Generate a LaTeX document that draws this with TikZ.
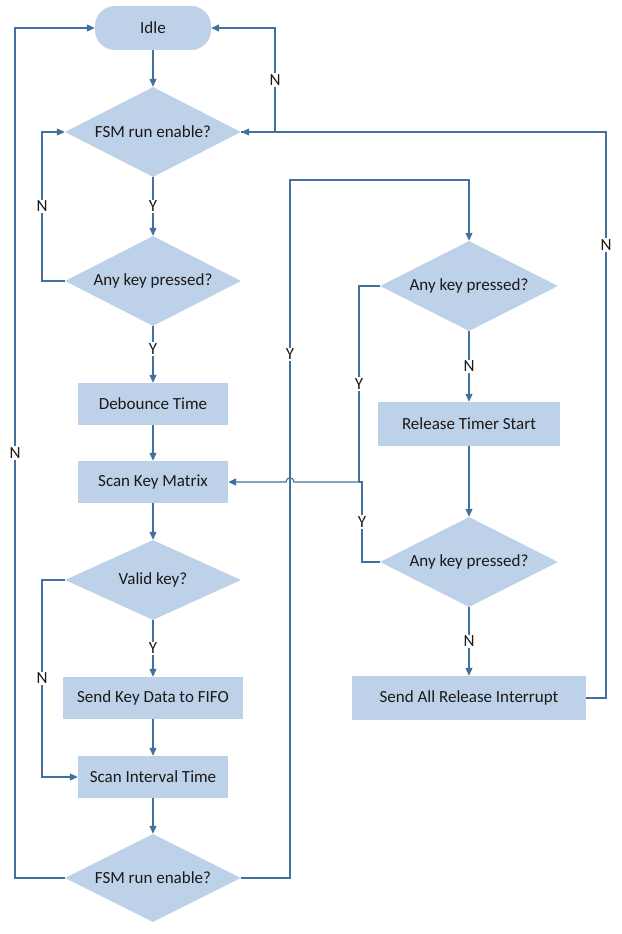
\documentclass[tikz,border=0pt]{standalone}
\usepackage{fontspec}
\setmainfont{Carlito}
\usetikzlibrary{shapes.geometric,arrows.meta}
\definecolor{fillb}{RGB}{189,210,232}
\definecolor{lineb}{RGB}{65,113,156}
\begin{document}
\begin{tikzpicture}[x=1pt,y=1pt,
  every node/.style={font=\fontsize{17}{19}\selectfont, text=black!90},
  box/.style={rectangle, fill=fillb, inner sep=0pt},
  dia/.style={diamond, fill=fillb, inner sep=0pt, aspect=1.95},
  ln/.style={draw=lineb, line width=1.1pt},
  ar/.style={ln, -{Triangle[length=8pt,width=7pt]}},
  lab/.style={fill=white, inner sep=1.5pt}]
\useasboundingbox (0,0) rectangle (621,-934);
\node[box, rounded corners=20pt, minimum width=116pt, minimum height=44pt] (idle) at (153,-28) {Idle};
\node[dia, minimum width=176pt, minimum height=90pt] (d1) at (153,-132) {FSM run enable?};
\node[dia, minimum width=176pt, minimum height=90pt] (d2) at (153,-281) {Any key pressed?};
\node[box, minimum width=150pt, minimum height=42pt] (deb) at (153,-404) {Debounce Time};
\node[box, minimum width=150pt, minimum height=42pt] (scan) at (153,-482) {Scan Key Matrix};
\node[dia, minimum width=176pt, minimum height=80pt] (valid) at (153,-580) {Valid key?};
\node[box, minimum width=180pt, minimum height=42pt] (send) at (153,-698) {Send Key Data to FIFO};
\node[box, minimum width=150pt, minimum height=42pt] (inter) at (153,-777) {Scan Interval Time};
\node[dia, minimum width=176pt, minimum height=88pt] (d3) at (153,-878) {FSM run enable?};
\node[dia, minimum width=178pt, minimum height=90pt] (r1) at (469,-286) {Any key pressed?};
\node[box, minimum width=182pt, minimum height=44pt] (rel) at (469,-424) {Release Timer Start};
\node[dia, minimum width=178pt, minimum height=90pt] (r2) at (469,-562) {Any key pressed?};
\node[box, minimum width=234pt, minimum height=44pt] (all) at (469,-698) {Send All Release Interrupt};
\coordinate (j) at (359,-482);

\draw[ar] (idle) -- (d1);
\draw[ar] (d1.east) -- (275,-132) -- node[lab]{N} (275,-28) -- (idle.east);
\draw[ar] (d1) -- node[lab]{Y} (d2);
\draw[ar] (d2.west) -- (42,-281) -- node[lab]{N} (42,-132) -- (d1.west);
\draw[ar] (d2) -- node[lab, pos=0.4]{Y} (deb);
\draw[ar] (deb) -- (scan);
\draw[ar] (scan) -- (valid);
\draw[ar] (valid) -- node[lab]{Y} (send);
\draw[ar] (valid.west) -- (42,-580) -- node[lab]{N} (42,-777) -- (inter.west);
\draw[ar] (send) -- (inter);
\draw[ar] (inter) -- (d3);
\draw[ar] (d3.west) -- (15,-878) -- node[lab]{N} (15,-28) -- (idle.west);
\draw[ar] (d3.east) -- (290,-878) -- node[lab, pos=0.75]{Y} (290,-180) -- (469,-180) -- (r1.north);
\draw[ln] (r1.west) -- (359,-286) -- node[lab]{Y} (j);
\draw[ar] (j) -- (294,-482) .. controls (294,-476.5) and (286,-476.5) .. (286,-482) -- (scan.east);
\draw[ar] (r1) -- node[lab]{N} (rel);
\draw[ar] (rel) -- (r2);
\draw[ln] (r2.west) -- (362,-562) -- node[lab]{Y} (362,-482) -- (j);
\draw[ar] (r2) -- node[lab]{N} (all);
\draw[ar] (all.east) -- (606,-698) -- node[lab, pos=0.8]{N} (606,-132) -- (d1.east);
\end{tikzpicture}
\end{document}
